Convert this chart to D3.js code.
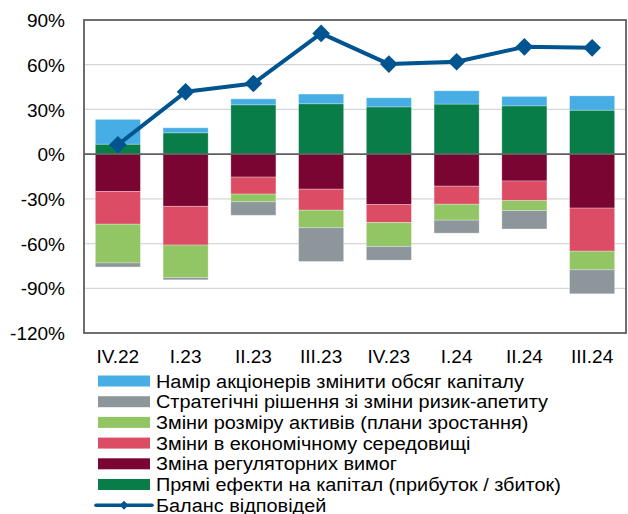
<!DOCTYPE html>
<html>
<head>
<meta charset="utf-8">
<script src="https://cdn.jsdelivr.net/npm/d3@7"></script>
<style>
  body { margin: 0; background: #fff; }
  text { font-family: 'Liberation Sans', Arial, sans-serif; fill: #000; }
</style>
</head>
<body>
<div id="graf"></div>
<script>
// I. Datos
categorias = ['IV.22', 'I.23', 'II.23', 'III.23', 'IV.23', 'I.24', 'II.24', 'III.24']

pryami      = [6.7, 14.3, 33.1, 33.8, 31.7, 33.6, 32.4, 29.5]       // Прямі ефекти на капітал
regulyatorni = [-25, -35, -15.4, -23.5, -33.8, -21.5, -18, -36.2]   // Зміна регуляторних вимог
ekonomichni = [-22, -26, -11.4, -14.1, -12.1, -12.1, -13.2, -28.9]  // Зміни в економічному середовищі
aktyvy      = [-26, -21.8, -5.2, -11.8, -16.1, -10.7, -6.7, -12.5]  // Зміни розміру активів
strategichni = [-2.7, -1.5, -9, -22.6, -9.1, -8.7, -12.3, -16.1]    // Стратегічні рішення
aktsionery  = [16.6, 3.4, 4, 6.5, 6.1, 8.9, 6.3, 9.6]               // Намір акціонерів
balans      = [6.3, 41.8, 47.4, 81, 60.4, 62, 72, 71.3]             // Баланс відповідей

yTicks = [90, 60, 30, 0, -30, -60, -90, -120]

series = [
  { key: 'pryami', nombre: 'Прямі ефекти на капітал (прибуток / збиток)', valores: pryami, color: '#087d48' },
  { key: 'regulyatorni', nombre: 'Зміна регуляторних вимог', valores: regulyatorni, color: '#7a0432' },
  { key: 'ekonomichni', nombre: 'Зміни в економічному середовищі', valores: ekonomichni, color: '#dc4d65' },
  { key: 'aktyvy', nombre: 'Зміни розміру активів (плани зростання)', valores: aktyvy, color: '#92c564' },
  { key: 'strategichni', nombre: 'Стратегічні рішення зі зміни ризик-апетиту', valores: strategichni, color: '#8c969b' },
  { key: 'aktsionery', nombre: 'Намір акціонерів змінити обсяг капіталу', valores: aktsionery, color: '#46aee4' }
]
colorLinea = '#00548f'

// II. Configuración
ancho_total = 628
alto_total = 514
margins = { top: 20, left: 84, right: 2, bottom: 181 }
ancho = ancho_total - margins.left - margins.right
alto = alto_total - margins.top - margins.bottom

svg = d3.select('#graf').append('svg')
        .attr('width', ancho_total)
        .attr('height', alto_total)

g = svg.append('g')
       .attr('transform', `translate(${ margins.left }, ${ margins.top })`)

x = d3.scaleBand()
      .domain(categorias)
      .range([0, ancho])
      .paddingInner(0.335)
      .paddingOuter(0.1675)

y = d3.scaleLinear()
      .domain([-120, 90])
      .range([alto, 0])

// tabla para d3.stack
tabla = categorias.map((c, i) => {
  fila = { cat: c }
  series.forEach(s => { fila[s.key] = s.valores[i] })
  return fila
})

stack = d3.stack()
          .keys(series.map(s => s.key))
          .offset(d3.stackOffsetDiverging)
apilado = stack(tabla)

// III. Ejes y rejilla
g.append('g')
  .selectAll('line')
  .data(yTicks.filter(t => t != 0 && t != 90 && t != -120))
  .join('line')
    .attr('x1', 0)
    .attr('x2', ancho)
    .attr('y1', d => y(d))
    .attr('y2', d => y(d))
    .attr('stroke', '#d4d7d9')
    .attr('stroke-width', 1.3)

yAxisCall = d3.axisLeft(y)
              .tickValues(yTicks)
              .tickSize(0)
              .tickPadding(19)
              .tickFormat(d => d + '%')
yAxisGroup = g.append('g').call(yAxisCall)
yAxisGroup.select('.domain').remove()
yAxisGroup.selectAll('text')
          .style('font-size', '19px')
          .attr('dy', '0.35em')

xAxisCall = d3.axisBottom(x).tickSize(0).tickPadding(17)
xAxisGroup = g.append('g')
              .attr('transform', `translate(0, ${ alto })`)
              .call(xAxisCall)
xAxisGroup.select('.domain').remove()
xAxisGroup.selectAll('text')
          .style('font-size', '19px')

// IV. Barras
capas = g.append('g')
  .selectAll('g')
  .data(apilado)
  .join('g')
    .attr('fill', (d, i) => series[i].color)

capas.selectAll('rect')
  .data(d => d.filter(p => p[1] - p[0] != 0))
  .join('rect')
    .attr('x', d => x(d.data.cat))
    .attr('width', x.bandwidth())
    .attr('y', d => y(d[1]))
    .attr('height', d => y(d[0]) - y(d[1]))
    .attr('stroke', 'rgba(255,255,255,0.35)')
    .attr('stroke-width', 0.8)

// línea del cero y marco
g.append('line')
  .attr('x1', 0).attr('x2', ancho)
  .attr('y1', y(0)).attr('y2', y(0))
  .attr('stroke', '#5f5f5f')
  .attr('stroke-width', 1.6)

g.append('rect')
  .attr('x', 0).attr('y', 0)
  .attr('width', ancho).attr('height', alto)
  .attr('fill', 'none')
  .attr('stroke', '#5f5f5f')
  .attr('stroke-width', 1.8)

// V. Línea de balance
linea = d3.line()
          .x((d, i) => x(categorias[i]) + x.bandwidth() / 2)
          .y(d => y(d))

g.append('path')
  .datum(balans)
  .attr('d', linea)
  .attr('fill', 'none')
  .attr('stroke', colorLinea)
  .attr('stroke-width', 4)
  .attr('stroke-linejoin', 'round')

diamante = d3.symbol().type(d3.symbolDiamond2).size(200)
g.selectAll('.marcador')
  .data(balans)
  .join('path')
    .attr('class', 'marcador')
    .attr('d', diamante)
    .attr('transform', (d, i) => `translate(${ x(categorias[i]) + x.bandwidth() / 2 }, ${ y(d) })`)
    .attr('fill', colorLinea)

// VI. Leyenda
leyenda = svg.append('g')
             .attr('transform', 'translate(98, 381)')
pasoLeyenda = 20.7
itemsLeyenda = series.slice().reverse()

// el texto de la leyenda es un poco más ancho en el original
function textoLeyenda(sel, txt) {
  sel.append('text')
     .attr('transform', 'translate(58, 0) scale(1.047, 1)')
     .attr('dy', '0.35em')
     .style('font-size', '19px')
     .text(txt)
}

itemsLeyenda.forEach((s, i) => {
  item = leyenda.append('g')
                .attr('transform', `translate(0, ${ i * pasoLeyenda })`)
  item.append('rect')
      .attr('x', 0).attr('y', -5.5)
      .attr('width', 52).attr('height', 11)
      .attr('fill', s.color)
  textoLeyenda(item, s.nombre)
})

itemLinea = leyenda.append('g')
                   .attr('transform', `translate(0, ${ 6 * pasoLeyenda })`)
itemLinea.append('line')
         .attr('x1', -2).attr('x2', 54)
         .attr('stroke', colorLinea)
         .attr('stroke-width', 3.5)
         .attr('stroke-linecap', 'round')
itemLinea.append('path')
         .attr('d', d3.symbol().type(d3.symbolDiamond2).size(50))
         .attr('transform', 'translate(26, 0)')
         .attr('fill', colorLinea)
textoLeyenda(itemLinea, 'Баланс відповідей')
</script>
</body>
</html>
